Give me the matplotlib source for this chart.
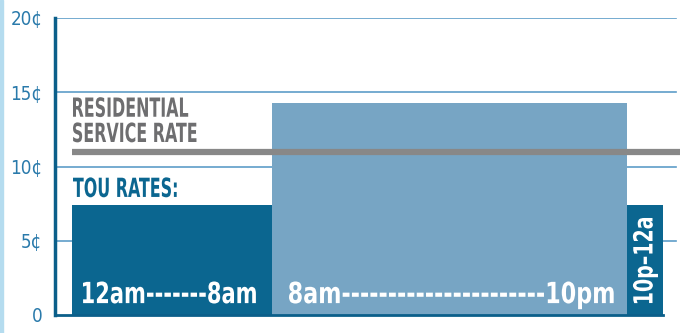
import matplotlib.pyplot as plt
from matplotlib.patches import Rectangle, PathPatch
from matplotlib.textpath import TextPath
from matplotlib.font_manager import FontProperties
from matplotlib.transforms import Affine2D, ScaledTranslation

# rate periods (cents per kWh), positions in layout units along the x axis
periods = ["12am-------8am", "8am----------------------10pm", "10p–12a"]
rates = [7.4, 14.3, 7.4]
starts = [17, 217, 572]
widths = [200, 355, 36]
colors = ["#0b6690", "#77a5c4", "#0b6690"]
residential_rate = 11.0
yticks = [0, 5, 10, 15, 20]
yticklabels = ["0", "5¢", "10¢", "15¢", "20¢"]

plt.rcParams['font.family'] = ['DejaVu Sans']
bold = FontProperties(family="DejaVu Sans", stretch="condensed", weight="bold")

fig = plt.figure(figsize=(6.88, 3.33), dpi=100)
ax = fig.add_axes([55 / 688, 18 / 333, (680 - 55) / 688, (315 - 18) / 333])
ax.set_xlim(0, 625)
ax.set_ylim(0, 20)


def narrow_text(x, y, s, size, sx, color, rotation=0):
    # text drawn as a path, squeezed along its baseline
    path = TextPath((0, 0), s, size=size, prop=bold)
    ext = path.get_extents()
    tr = (Affine2D().translate(-ext.x0, 0).scale(sx / 72, 1 / 72).rotate_deg(rotation)
          + fig.dpi_scale_trans + ScaledTranslation(x, y, ax.transData))
    ax.add_patch(PathPatch(path, transform=tr, color=color, lw=0, zorder=4))


for y in yticks[1:]:
    ax.axhline(y, xmin=0, xmax=621 / 625, color="#5d9dc8", lw=1.2, zorder=1)

ax.bar(starts, rates, width=widths, align="edge", color=colors, zorder=2)
ax.hlines(residential_rate, 17, 625, color="#888888", lw=4.5, zorder=3)

# period labels inside the bars
narrow_text(starts[0] + 11, 0.8, periods[0], 21, 0.8, "white")
narrow_text(starts[1] + 17, 0.8, periods[1], 21, 0.85, "white")
narrow_text(starts[2] + widths[2] / 2 + 7.5, 0.8, periods[2], 19, 0.8, "white", rotation=90)

narrow_text(18, 13.35, "RESIDENTIAL", 19, 0.67, "#6e6e70")
narrow_text(18, 11.65, "SERVICE RATE", 19, 0.67, "#6e6e70")
narrow_text(18, 7.95, "TOU RATES:", 19, 0.67, "#0b6690")

ax.set_yticks(yticks)
ax.set_yticklabels(yticklabels, color="#2a7aab", fontsize=13.5, fontstretch="condensed")
ax.tick_params(axis="y", length=0, pad=9)
ax.set_xticks([])

for side in ["top", "right"]:
    ax.spines[side].set_visible(False)
ax.spines["left"].set_color("#0b5f8a")
ax.spines["left"].set_linewidth(2.5)
ax.spines["bottom"].set_color("#0b5f8a")
ax.spines["bottom"].set_linewidth(2)
ax.spines["bottom"].set_bounds(0, 608)

fig.patches.append(Rectangle((0, 0), 3 / 688, 1, transform=fig.transFigure,
                             color="#b5dcef", zorder=0))

fig.savefig("out.png", dpi=100)
